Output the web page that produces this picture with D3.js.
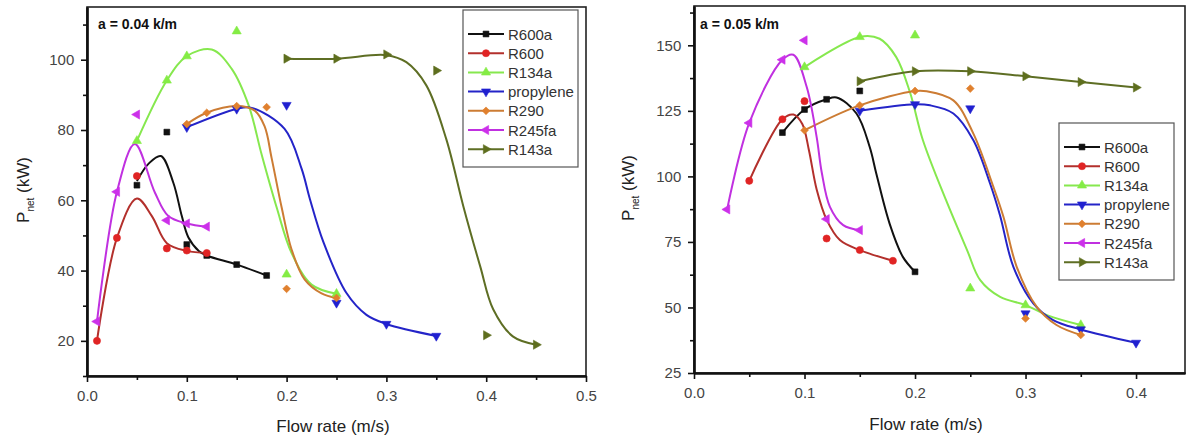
<!DOCTYPE html>
<html><head><meta charset="utf-8">
<script src="https://cdn.jsdelivr.net/npm/d3@7"></script>
<style>
body{margin:0;background:#fff;}
text{font-family:"Liberation Sans",Arial,sans-serif;}
</style></head>
<body><svg id="c" width="1190" height="441"></svg>
<script>
// ---------- shared ----------
const seriesNames = ["R600a","R600","R134a","propylene","R290","R245fa","R143a"];
const markerColors = ["#111111","#e02424","#84ec45","#2020d0","#e0802e","#cc30ea","#5e6e1e"];
const lineColors   = ["#111111","#b3302c","#86e84e","#2424c8","#cc7c34","#c030e0","#5e6e24"];
const shapes = ["square","circle","up","down","diamond","left","right"];

// ---------- left panel (a = 0.04 k/m) ----------
const xTicksL = [0.0,0.1,0.2,0.3,0.4,0.5];
const yTicksL = [20,40,60,80,100];
const L_R600a_pts = [[0.05,64.3],[0.08,79.4],[0.1,47.4],[0.12,44.3],[0.15,41.7],[0.18,38.6]];
const L_R600a_fit = [[0.05,65.5],[0.062,70.5],[0.074,72.6],[0.0865,65],[0.095,55.5],[0.1015,49.5],[0.112,45.6],[0.12,44.3],[0.15,41.7],[0.18,38.6]];
const L_R600_pts = [[0.01,20],[0.03,49.3],[0.05,66.9],[0.08,46.3],[0.1,45.7],[0.12,45.0]];
const L_R600_fit = [[0.01,20],[0.03,49.3],[0.05,60.5],[0.065,55.5],[0.08,47.8],[0.1,45.6],[0.12,45.0]];
const L_R134a_pts = [[0.05,76.9],[0.08,94.1],[0.1,101],[0.15,108.1],[0.2,38.9],[0.25,33.4]];
const L_R134a_fit = [[0.05,76.9],[0.08,94.1],[0.1,101],[0.125,102.9],[0.145,97.4],[0.162,87],[0.175,73],[0.19,58],[0.205,45],[0.225,36],[0.25,33.4]];
const L_prop_pts = [[0.1,80.8],[0.15,86],[0.2,87.1],[0.25,30.8],[0.3,24.8],[0.35,21.4]];
const L_prop_fit = [[0.1,80.8],[0.15,86],[0.165,86.3],[0.198,80.3],[0.215,69],[0.2234,60.3],[0.237,48],[0.26,33.6],[0.28,27.4],[0.3,24.8],[0.35,21.4]];
const L_R290_pts = [[0.1,81.7],[0.12,84.9],[0.15,86.8],[0.18,86.5],[0.2,34.8],[0.25,32.2]];
const L_R290_fit = [[0.1,81.7],[0.12,84.9],[0.15,86.8],[0.168,85.5],[0.178,81],[0.185,72],[0.195,58],[0.205,46],[0.218,37.5],[0.235,33.5],[0.25,32.2]];
const L_R245fa_pts = [[0.01,25.5],[0.03,62.4],[0.05,84.4],[0.08,54.3],[0.1,53.4],[0.12,52.5]];
const L_R245fa_fit = [[0.01,25.5],[0.03,62.4],[0.048,76],[0.068,62.2],[0.0815,55.5],[0.1,53.4],[0.12,52.5]];
const L_R143a_pts = [[0.2,100.3],[0.25,100.3],[0.3,101.5],[0.35,96.9],[0.4,21.6],[0.45,18.9]];
const L_R143a_fit = [[0.2,100.3],[0.25,100.3],[0.3,101.3],[0.32,99.3],[0.34,92.7],[0.36,77.4],[0.377,58.4],[0.394,41.2],[0.407,29],[0.427,21.2],[0.45,18.9]];

// ---------- right panel (a = 0.05 k/m) ----------
const xTicksR = [0.0,0.1,0.2,0.3,0.4];
const yTicksR = [25,50,75,100,125,150];
const R_R600a_pts = [[0.08,116.7],[0.1,125.5],[0.12,129.4],[0.15,132.6],[0.2,63.6]];
const R_R600a_fit = [[0.08,116.7],[0.1,125.5],[0.12,129.4],[0.129,130.1],[0.147,124],[0.159,111.2],[0.165,101],[0.177,82],[0.189,69.3],[0.2,63.6]];
const R_R600_pts = [[0.05,98.3],[0.08,121.8],[0.1,128.7],[0.12,76.3],[0.15,71.9],[0.18,67.8]];
const R_R600_fit = [[0.05,98.3],[0.08,121.8],[0.09,123.6],[0.098,120],[0.104,110],[0.111,95],[0.12,83.5],[0.132,75.7],[0.15,71.9],[0.18,67.8]];
const R_R134a_pts = [[0.1,141.7],[0.15,153.2],[0.2,153.8],[0.25,57.3],[0.3,50.9],[0.35,43.3]];
const R_R134a_fit = [[0.1,141.7],[0.15,153.2],[0.168,152.5],[0.183,145.5],[0.1955,132],[0.207,114],[0.228,91],[0.247,72],[0.259,60.4],[0.277,54],[0.3,50.9],[0.32,47],[0.35,43.3]];
const R_prop_pts = [[0.15,125],[0.2,127.5],[0.25,125.9],[0.3,47.7],[0.35,41.6],[0.4,36.5]];
const R_prop_fit = [[0.15,125],[0.2,127.5],[0.2136,127.1],[0.2347,124],[0.2528,113.8],[0.2679,97.3],[0.277,85],[0.289,65.5],[0.307,51.6],[0.325,45.2],[0.35,41.6],[0.4,36.5]];
const R_R290_pts = [[0.1,117.6],[0.15,127.1],[0.2,132.6],[0.25,133.5],[0.3,45.8],[0.35,39.5]];
const R_R290_fit = [[0.1,117.6],[0.15,127.1],[0.2,132.6],[0.2106,132.5],[0.2347,129],[0.2528,116.3],[0.2709,96],[0.28,84.6],[0.292,65.5],[0.31,50.3],[0.328,43.3],[0.35,39.5]];
const R_R245fa_pts = [[0.03,87.4],[0.05,120.4],[0.08,144.5],[0.1,151.9],[0.12,83.7],[0.15,79.5]];
const R_R245fa_fit = [[0.03,87.4],[0.05,120.4],[0.08,144.5],[0.0899,146.4],[0.102,134.1],[0.111,115],[0.1156,101.5],[0.123,88.4],[0.135,81.4],[0.15,79.5]];
const R_R143a_pts = [[0.15,136.3],[0.2,140.1],[0.25,140.1],[0.3,138.2],[0.35,136],[0.4,133.9]];
const R_R143a_fit = [[0.15,136.3],[0.2,140.1],[0.25,140.1],[0.3,138.2],[0.35,136],[0.4,133.9]];

const leftPts = [L_R600a_pts,L_R600_pts,L_R134a_pts,L_prop_pts,L_R290_pts,L_R245fa_pts,L_R143a_pts];
const leftFit = [L_R600a_fit,L_R600_fit,L_R134a_fit,L_prop_fit,L_R290_fit,L_R245fa_fit,L_R143a_fit];
const rightPts = [R_R600a_pts,R_R600_pts,R_R134a_pts,R_prop_pts,R_R290_pts,R_R245fa_pts,R_R143a_pts];
const rightFit = [R_R600a_fit,R_R600_fit,R_R134a_fit,R_prop_fit,R_R290_fit,R_R245fa_fit,R_R143a_fit];

const svg = d3.select("#c");

function markerPath(shape){
  const t = {square:[d3.symbolSquare,34,0],circle:[d3.symbolCircle,40,0],up:[d3.symbolTriangle,36,0],
    down:[d3.symbolTriangle,36,180],diamond:[d3.symbolSquare,30,45],left:[d3.symbolTriangle,36,-90],right:[d3.symbolTriangle,36,90]}[shape];
  return {d:d3.symbol().type(t[0]).size(t[1])(), rot:t[2]};
}
function drawMarker(g,x,y,i){
  const m = markerPath(shapes[i]);
  g.append("path").attr("d",m.d).attr("transform",`translate(${x},${y}) rotate(${m.rot})`)
    .attr("fill",markerColors[i]).attr("stroke",markerColors[i]).attr("stroke-width",0.6);
}

function panel(cfg){
  const x = d3.scaleLinear().domain(cfg.xd).range(cfg.xr);
  const y = d3.scaleLinear().domain(cfg.yd).range(cfg.yr);
  const g = svg.append("g");
  const id = "clip"+cfg.name;
  svg.append("clipPath").attr("id",id).append("rect")
    .attr("x",cfg.xr[0]).attr("y",cfg.yr[1]).attr("width",cfg.xr[1]-cfg.xr[0]).attr("height",cfg.yr[0]-cfg.yr[1]);

  // frame
  g.append("rect").attr("x",cfg.xr[0]).attr("y",cfg.yr[1]).attr("width",cfg.xr[1]-cfg.xr[0]).attr("height",cfg.yr[0]-cfg.yr[1])
    .attr("fill","none").attr("stroke","#222").attr("stroke-width",1.6);

  // axes
  const xAx = d3.axisBottom(x).tickValues(cfg.xt).tickFormat(d3.format(".1f")).tickSize(6).tickSizeOuter(0);
  const xMin = d3.axisBottom(x).tickValues(cfg.xm).tickFormat("").tickSize(4).tickSizeOuter(0);
  const yAx = d3.axisLeft(y).tickValues(cfg.yt).tickFormat(d3.format("d")).tickSize(6).tickSizeOuter(0);
  const yMin = d3.axisLeft(y).tickValues(cfg.ym).tickFormat("").tickSize(4).tickSizeOuter(0);
  [[xAx,`translate(0,${cfg.yr[0]})`,true],[xMin,`translate(0,${cfg.yr[0]})`,true],[yAx,`translate(${cfg.xr[0]},0)`,false],[yMin,`translate(${cfg.xr[0]},0)`,false]].forEach(([a,t,isX])=>{
    const ax = g.append("g").attr("transform",t).call(a);
    ax.select(".domain").attr("stroke","#111").attr("stroke-width",2.2);
    ax.selectAll(".tick line").attr("stroke","#111").attr("stroke-width",1.6);
    const tt = ax.selectAll(".tick text").attr("font-size",15).attr("fill","#444").attr("font-family","Liberation Sans, Arial, sans-serif");
    if(isX) tt.attr("dy","1.05em"); else tt.attr("dx","-0.25em");
  });

  // curves
  const line = d3.line().x(d=>x(d[0])).y(d=>y(d[1])).curve(d3.curveCatmullRom.alpha(0.5));
  const cg = g.append("g").attr("clip-path",`url(#${id})`);
  cfg.fit.forEach((f,i)=>{
    cg.append("path").attr("d",line(f)).attr("fill","none").attr("stroke",lineColors[i]).attr("stroke-width",2);
  });
  cfg.pts.forEach((p,i)=>{
    p.forEach(d=>drawMarker(cg,x(d[0]),y(d[1]),i));
  });

  // labels
  g.append("text").attr("x",cfg.xlab[0]).attr("y",cfg.xlab[1]).attr("text-anchor","middle")
    .attr("font-size",17).attr("fill","#222").text("Flow rate (m/s)");
  const yl = g.append("text").attr("transform",`translate(${cfg.ylab[0]},${cfg.ylab[1]}) rotate(-90)`)
    .attr("text-anchor","middle").attr("font-size",17).attr("fill","#222");
  yl.append("tspan").text("P");
  yl.append("tspan").attr("font-size",10).attr("dy",5).text("net");
  yl.append("tspan").attr("dy",-5).text(" (kW)");
  g.append("text").attr("x",cfg.ann[0]).attr("y",cfg.ann[1]).attr("font-size",14).attr("font-weight","bold")
    .attr("fill","#111").text(cfg.annText);

  // legend
  const lg = g.append("g");
  lg.append("rect").attr("x",cfg.leg[0]).attr("y",cfg.leg[1]).attr("width",115).attr("height",157)
    .attr("fill","#fff").attr("stroke","#555").attr("stroke-width",1.2);
  seriesNames.forEach((n,i)=>{
    const yy = cfg.leg[1]+24+i*19.2;
    const x0 = cfg.leg[0]+5;
    lg.append("line").attr("x1",x0).attr("x2",x0+36).attr("y1",yy).attr("y2",yy).attr("stroke",lineColors[i]).attr("stroke-width",2);
    drawMarker(lg,x0+18,yy,i);
    lg.append("text").attr("x",x0+40).attr("y",yy+5.5).attr("font-size",15).attr("fill","#333").text(n);
  });
}

panel({name:"L", xd:[0,0.5], xr:[87,586], yd:[10,115], yr:[376,7],
  xt:xTicksL, xm:[0.05,0.15,0.25,0.35,0.45], yt:yTicksL, ym:[10,30,50,70,90,110],
  pts:leftPts, fit:leftFit, xlab:[333,432], ylab:[29,190], ann:[98,29], annText:"a = 0.04 k/m", leg:[463,10]});
panel({name:"R", xd:[0,0.4443], xr:[694,1185], yd:[25,165], yr:[373,6],
  xt:xTicksR, xm:[0.05,0.15,0.25,0.35], yt:yTicksR, ym:[37.5,62.5,87.5,112.5,137.5,162.5],
  pts:rightPts, fit:rightFit, xlab:[926,430], ylab:[634,188], ann:[700,29], annText:"a = 0.05 k/m", leg:[1059,123]});
</script></body></html>
